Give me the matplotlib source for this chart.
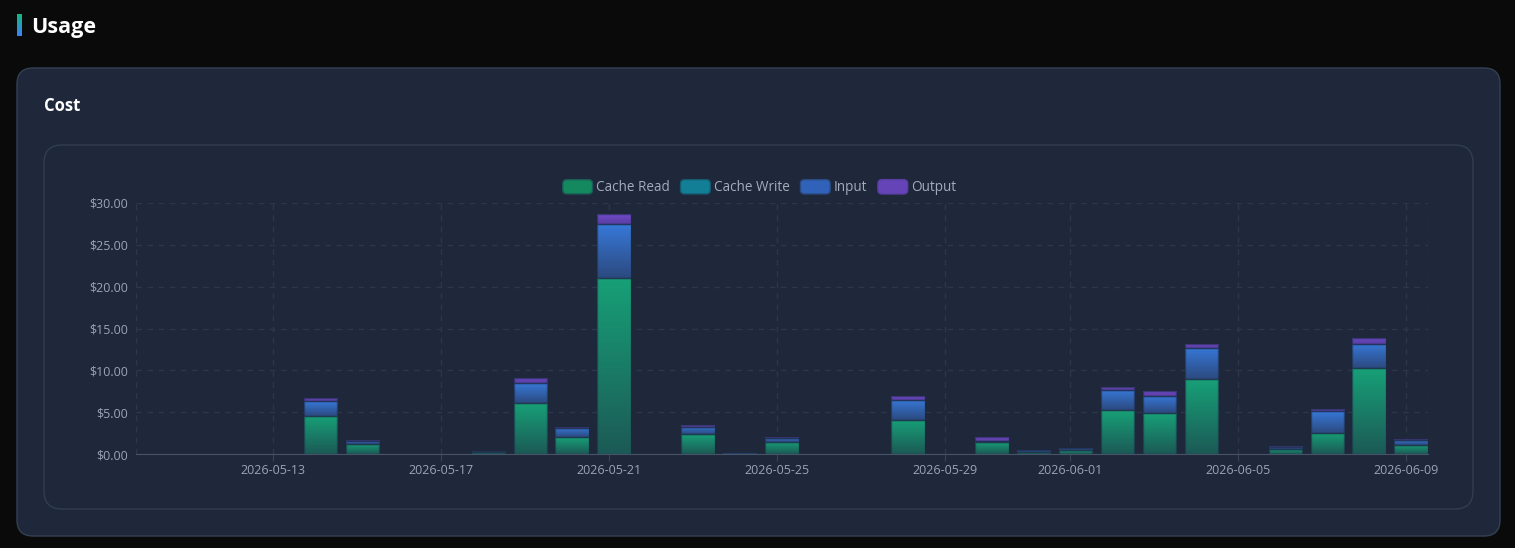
import numpy as np
import pandas as pd
import matplotlib.pyplot as plt
import matplotlib.dates as mdates
from matplotlib.patches import FancyBboxPatch, Patch
from matplotlib.transforms import IdentityTransform
from matplotlib.colors import LinearSegmentedColormap
from matplotlib.legend_handler import HandlerPatch
from matplotlib.ticker import FuncFormatter

plt.rcParams['font.family'] = ['Open Sans', 'DejaVu Sans']

# daily cost, 2026-05-10 .. 2026-06-09
days = pd.date_range("2026-05-10", "2026-06-09", freq="D")
cache_read = [0, 0, 0, 0, 4.55, 1.23, 0, 0, 0.25, 6.06, 2.00, 21.05, 0, 2.35, 0.05, 1.47,
              0, 0, 4.07, 0, 1.45, 0.24, 0.50, 5.22, 4.90, 8.93, 0, 0.64, 2.51, 10.25, 1.08]
cache_write = [0] * 31
input_cost = [0, 0, 0, 0, 1.75, 0.30, 0, 0, 0.08, 2.39, 1.12, 6.45, 0, 0.88, 0.03, 0.50,
              0, 0, 2.43, 0, 0.15, 0.20, 0.18, 2.47, 2.04, 3.79, 0, 0.16, 2.59, 2.87, 0.62]
output_cost = [0, 0, 0, 0, 0.36, 0.14, 0, 0, 0.03, 0.60, 0.07, 1.17, 0, 0.20, 0, 0.10,
               0, 0, 0.44, 0, 0.40, 0.04, 0.04, 0.32, 0.56, 0.44, 0, 0.12, 0.32, 0.72, 0.06]
tick_days = ["2026-05-13", "2026-05-17", "2026-05-21", "2026-05-25",
             "2026-05-29", "2026-06-01", "2026-06-05", "2026-06-09"]

series = [
    ("Cache Read", cache_read, "#17a077", "#1c5a56", "#14885f"),
    ("Cache Write", cache_write, "#1193ab", "#175a70", "#137f96"),
    ("Input", input_cost, "#3778d8", "#2c4a80", "#2f62b8"),
    ("Output", output_cost, "#7049c8", "#5a3ea4", "#6544b8"),
]

W, H = 1515, 548
fig = plt.figure(figsize=(W / 100, H / 100), dpi=100, facecolor="#0a0a0a")

def card(x0, y0, x1, y1, r, face, edge):
    p = FancyBboxPatch((x0, H - y1), x1 - x0, y1 - y0,
                       boxstyle=f"round,pad=0,rounding_size={r}",
                       transform=IdentityTransform(), facecolor=face, edgecolor=edge, lw=1,
                       zorder=-10)
    fig.add_artist(p)

card(17, 68, 1500, 536, 16, "#1e283a", "#334155")
card(44, 145, 1473, 509, 18, "#1e283a", "#313d52")

# accent bar next to the title
acc = fig.add_axes([17 / W, 1 - 36 / H, 5 / W, 22 / H])
acc.imshow(np.linspace(0, 1, 50).reshape(-1, 1), aspect="auto",
           cmap=LinearSegmentedColormap.from_list("acc", ["#10b981", "#3b82f6"]))
acc.axis("off")

fig.text(31 / W, 1 - 28 / H, "Usage", color="white", fontsize=15.5, fontweight="bold", va="center")
fig.text(44 / W, 1 - 106 / H, "Cost", color="white", fontsize=12, fontweight="bold", va="center")

ax = fig.add_axes([136 / W, 1 - 454 / H, 1292 / W, 251 / H])
ax.patch.set_visible(False)

xs = mdates.date2num(days + pd.Timedelta(hours=3))
bottom = np.zeros(len(xs))
for name, vals, top_c, bot_c, mid_c in series:
    vals = np.array(vals, dtype=float)
    bars = ax.bar(xs, vals, width=0.8, bottom=bottom, color=mid_c,
                  edgecolor=(0.12, 0.17, 0.28, 0.6), lw=1, zorder=3)
    cmap = LinearSegmentedColormap.from_list(name, [bot_c, top_c])
    for b, v in zip(bars, vals):
        if v <= 0:
            b.set_visible(False)
            continue
        x0, y0 = b.get_x(), b.get_y()
        im = ax.imshow(np.linspace(1, 0, 64).reshape(-1, 1), cmap=cmap, aspect="auto",
                       extent=[x0, x0 + b.get_width(), y0, y0 + b.get_height()], zorder=2.9)
        im.set_clip_path(b)
        b.set_facecolor("none")
    bottom += vals

ax.set_xlim(xs[0] - 0.4, xs[-1] + 0.4)
ax.set_ylim(0, 30)
ax.set_yticks(np.arange(0, 31, 5))
ax.yaxis.set_major_formatter(FuncFormatter(lambda v, _: f"${v:.2f}"))
ax.set_xticks(mdates.date2num(pd.to_datetime(tick_days)))
ax.xaxis.set_major_formatter(mdates.DateFormatter("%Y-%m-%d"))

grid_c = "#2c3749"
ax.grid(True, ls=(0, (4, 4)), color=grid_c, lw=1, zorder=0)
for xe in ax.get_xlim():
    ax.axvline(xe, ls=(0, (4, 4)), color=grid_c, lw=1, zorder=0)

for s in ["top", "right", "left"]:
    ax.spines[s].set_visible(False)
ax.spines["bottom"].set_color("#475366")
ax.spines["bottom"].set_zorder(4)

ax.tick_params(axis="x", length=5, color="#3a4558", labelcolor="#9aa4b4", labelsize=9, pad=2)
ax.tick_params(axis="y", length=0, labelcolor="#9aa4b4", labelsize=9, pad=6)

def rounded(legend, orig_handle, xdescent, ydescent, width, height, fontsize):
    return FancyBboxPatch((-xdescent, -ydescent), width, height,
                          boxstyle="round,pad=0,rounding_size=3")

handles = [Patch(facecolor=mid, edgecolor=bot, label=name) for name, _, _, bot, mid in series]
fig.legend(handles=handles, loc="center", bbox_to_anchor=(759.5 / W, 1 - 187.5 / H), ncol=4,
           frameon=False, fontsize=9.75, labelcolor="#a3acba", handlelength=2.2,
           handleheight=1.25, handletextpad=0.25, columnspacing=0.8,
           handler_map={Patch: HandlerPatch(patch_func=rounded)})

fig.savefig("out.png", dpi=100, facecolor=fig.get_facecolor())
